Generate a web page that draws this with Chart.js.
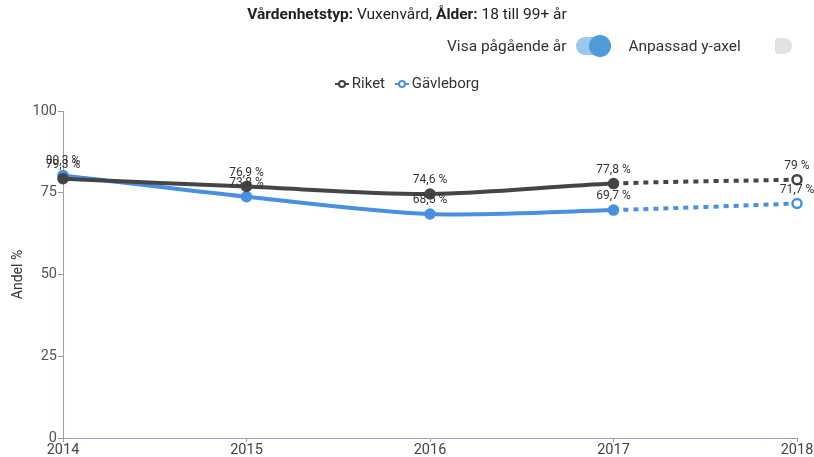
<!DOCTYPE html>
<html>
<head>
<meta charset="utf-8">
<script src="https://cdn.jsdelivr.net/npm/chart.js@4"></script>
<style>
  body { margin: 0; background: #fff; font-family: Roboto, "Noto Sans", sans-serif; }
  #wrap { position: relative; width: 814px; height: 457px; }
  #chart { position: absolute; left: 0; top: 0; }
  .title { position: absolute; top: 5px; left: 0; width: 814px; text-align: center; font-size: 15.5px; color: #222; }
  .toggles { position: absolute; top: 36px; left: 447px; font-size: 15.5px; color: #333; white-space: nowrap; }
  .tg { display: inline-block; vertical-align: middle; }
  .sw-on { display: inline-block; vertical-align: middle; width: 34px; height: 18px; border-radius: 9px; background: #9cc7ec; position: relative; margin: 0 18px 0 10px; }
  .sw-on i { position: absolute; right: -1px; top: -2px; width: 22px; height: 22px; border-radius: 11px; background: #4f9ad8; }
  .sw-off { display: inline-block; vertical-align: middle; width: 17px; height: 16px; border-radius: 3px 8px 8px 3px; background: #e2e2e6; margin-left: 34px; }
  .legend { position: absolute; top: 74px; left: 0; width: 814px; text-align: center; font-size: 15px; color: #333; }
  .lg { display: inline-block; margin: 0 3px; }
  .mk { display: inline-block; position: relative; width: 14px; height: 10px; vertical-align: middle; margin-right: 3px; }
  .mk b { position: absolute; left: 0; top: 4px; width: 14px; height: 2px; }
  .mk i { position: absolute; left: 3px; top: 1px; width: 4px; height: 4px; border-radius: 4px; border: 2px solid; background: #fff; }
</style>
</head>
<body>
<div id="wrap">
  <canvas id="chart" width="814" height="457"></canvas>
  <div class="title"><b>Vårdenhetstyp:</b> Vuxenvård, <b>Ålder:</b> 18 till 99+ år</div>
  <div class="toggles"><span class="tg">Visa pågående år</span><span class="sw-on"><i></i></span><span class="tg">Anpassad y-axel</span><span class="sw-off"></span></div>
  <div class="legend">
    <span class="lg"><span class="mk"><b style="background:#444"></b><i style="border-color:#444"></i></span>Riket</span>
    <span class="lg"><span class="mk"><b style="background:#4a90e2"></b><i style="border-color:#4a90e2"></i></span>Gävleborg</span>
  </div>
</div>
<script>
var years = ['2014', '2015', '2016', '2017', '2018'];
var riket = [79.3, 76.9, 74.6, 77.8, 79];
var gavleborg = [80.3, 73.8, 68.5, 69.7, 71.7];
var yTicks = [0, 25, 50, 75, 100];

var riketColor = '#454545';
var gavleColor = '#4a90e2';

function fmt(v) {
    return String(v).replace('.', ',') + ' %';
}

// last point is the ongoing year: dashed segment and hollow point
function pointBg(color) {
    return years.map(function (y, i) { return i === years.length - 1 ? '#fff' : color; });
}

var lastDash = function (c) { return c.p1DataIndex === years.length - 1 ? [5, 5] : undefined; };

var labelPlugin = {
    id: 'pointLabels',
    afterDatasetsDraw: function (chart) {
        var ctx = chart.ctx;
        ctx.save();
        ctx.font = '12px Roboto, sans-serif';
        ctx.fillStyle = '#333';
        ctx.textAlign = 'center';
        ctx.textBaseline = 'bottom';
        chart.data.datasets.forEach(function (ds, di) {
            chart.getDatasetMeta(di).data.forEach(function (pt, i) {
                ctx.fillText(fmt(ds.data[i]), pt.x, pt.y - 8);
            });
        });
        ctx.restore();
    }
};

new Chart(document.getElementById('chart'), {
    type: 'line',
    data: {
        labels: years,
        datasets: [{
            label: 'Riket',
            data: riket,
            borderColor: riketColor,
            backgroundColor: riketColor,
            pointBackgroundColor: pointBg(riketColor),
            pointBorderColor: riketColor,
            borderWidth: 4,
            pointRadius: 4.5,
            pointBorderWidth: 2.5,
            tension: 0.3,
            segment: { borderDash: lastDash }
        }, {
            label: 'Gävleborg',
            data: gavleborg,
            borderColor: gavleColor,
            backgroundColor: gavleColor,
            pointBackgroundColor: pointBg(gavleColor),
            pointBorderColor: gavleColor,
            borderWidth: 4,
            pointRadius: 4.5,
            pointBorderWidth: 2.5,
            tension: 0.3,
            segment: { borderDash: lastDash }
        }]
    },
    options: {
        responsive: false,
        animation: false,
        layout: { padding: { top: 111, right: 17, left: 10, bottom: 0 } },
        plugins: {
            legend: { display: false },
            tooltip: { enabled: false }
        },
        scales: {
            x: {
                offset: false,
                grid: { drawOnChartArea: false, drawTicks: true, tickLength: 4, color: '#99a' },
                border: { display: true, color: '#9aa0b8', dash: [3, 2] },
                ticks: { color: '#444', font: { size: 14.5, family: 'Roboto' }, padding: 0, maxRotation: 0 },
                afterFit: function (s) { s.height = 19; }
            },
            y: {
                min: 0,
                max: 100,
                afterBuildTicks: function (s) { s.ticks = yTicks.map(function (v) { return { value: v }; }); },
                grid: { drawOnChartArea: false, drawTicks: true, tickLength: 5, color: '#99a' },
                border: { display: true, color: '#9aa0b8', dash: [3, 2] },
                ticks: { color: '#555', font: { size: 14.5, family: 'Roboto' }, padding: 1 },
                title: { display: true, text: 'Andel %', color: '#333', font: { size: 14, family: 'Roboto' }, padding: 0 },
                afterFit: function (s) { s.width = 53; }
            }
        }
    },
    plugins: [labelPlugin]
});
</script>
</body>
</html>
